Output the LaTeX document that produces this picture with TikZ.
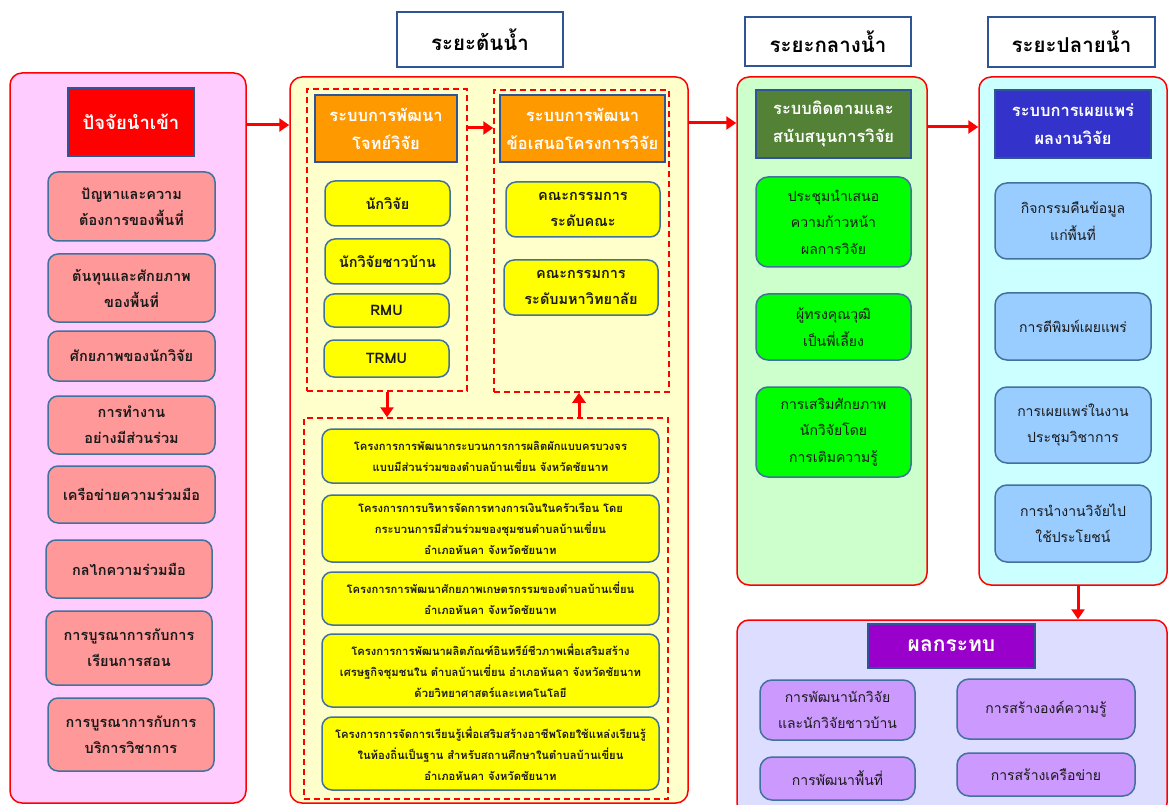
\documentclass[tikz,border=0pt]{standalone}
\usepackage{fontspec}
\setmainfont{Loma}[Script=Thai]
\usetikzlibrary{arrows.meta}
\definecolor{pinkbg}{HTML}{FFCCFF}
\definecolor{pinkitem}{HTML}{FF9999}
\definecolor{yelbg}{HTML}{FFFFCC}
\definecolor{yelitem}{HTML}{FFFF00}
\definecolor{orangehdr}{HTML}{FF9900}
\definecolor{greenbg}{HTML}{CCFFCC}
\definecolor{greenhdr}{HTML}{538135}
\definecolor{greenitem}{HTML}{00FF00}
\definecolor{cyanbg}{HTML}{CCFFFF}
\definecolor{bluehdr}{HTML}{3333CC}
\definecolor{blueitem}{HTML}{99CCFF}
\definecolor{lavbg}{HTML}{DDDDFF}
\definecolor{purplehdr}{HTML}{9900CC}
\definecolor{purpleitem}{HTML}{CC99FF}
\definecolor{edgeblue}{HTML}{2F5597}
\definecolor{itemedge}{HTML}{41719C}
\definecolor{darktext}{HTML}{1A1A1A}
\newcommand{\mybox}[7]{\node[#2, minimum width={(#5)-(#3)}, minimum height={(#6)-(#4)}, inner sep=0pt] (#1) at ({((#3)+(#5))/2},{((#4)+(#6))/2}) {#7};}
\tikzset{
  bigbox/.style={draw=red, line width=1.5pt, rounded corners=12pt},
  hdrbox/.style={draw=edgeblue, line width=1.5pt, text=white, align=center, font=\bfseries\fontsize{16.5}{28}\selectfont},
  itembox/.style={draw=itemedge, line width=1.5pt, rounded corners=10pt, align=center, font=\bfseries\fontsize{14.5}{26}\selectfont, text=darktext},
  softitem/.style={draw=itemedge, line width=1.5pt, rounded corners=12pt, align=center, font=\fontsize{14}{26.5}\selectfont, text=darktext},
  projbox/.style={draw=itemedge, line width=1.5pt, rounded corners=10pt, align=center, font=\bfseries\fontsize{11.2}{21}\selectfont, fill=yelitem, text=darktext},
  titlebox/.style={draw=edgeblue, fill=white, line width=1.5pt, font=\bfseries\fontsize{20.5}{24}\selectfont},
  dashbox/.style={draw=red, line width=1.5pt, dash pattern=on 6pt off 4pt},
  arr/.style={draw=red, line width=3pt, -{Triangle[length=10pt,width=13pt]}}
}
\begin{document}
\begin{tikzpicture}[x=1pt,y=-1pt]
\clip (0,0) rectangle (1168,805);
\fill[white] (0,0) rectangle (1168,805);
% big boxes
\mybox{left}{bigbox, fill=pinkbg}{10}{73}{246}{803}{}
\mybox{mid}{bigbox, fill=yelbg}{290}{77}{688}{803}{}
\mybox{midw}{bigbox, fill=greenbg}{737}{77}{927}{585}{}
\mybox{down}{bigbox, fill=cyanbg}{979}{77}{1167}{585}{}
\mybox{impact}{bigbox, fill=lavbg}{737}{620}{1167}{815}{}
% titles
\mybox{t1}{titlebox}{397}{12}{563}{67}{ระยะต้นน้ำ}
\mybox{t2}{titlebox}{745}{17}{911}{66}{ระยะกลางน้ำ}
\mybox{t3}{titlebox}{988}{17}{1155}{67}{ระยะปลายน้ำ}
% left column
\mybox{lh}{hdrbox, fill=red, font=\bfseries\fontsize{18.5}{24}\selectfont}{68}{88}{194}{156}{ปัจจัยนำเข้า}
\mybox{l1}{itembox, fill=pinkitem}{48}{172}{215}{241}{ปัญหาและความ\\ต้องการของพื้นที่}
\mybox{l2}{itembox, fill=pinkitem}{48}{254}{215}{322}{ต้นทุนและศักยภาพ\\ของพื้นที่}
\mybox{l3}{itembox, fill=pinkitem}{48}{331}{215}{381}{ศักยภาพของนักวิจัย}
\mybox{l4}{itembox, fill=pinkitem}{48}{396}{215}{454}{การทำงาน\\อย่างมีส่วนร่วม}
\mybox{l5}{itembox, fill=pinkitem}{48}{466}{215}{523}{เครือข่ายความร่วมมือ}
\mybox{l6}{itembox, fill=pinkitem}{46}{540}{212}{598}{กลไกความร่วมมือ}
\mybox{l7}{itembox, fill=pinkitem}{46}{611}{212}{685}{การบูรณาการกับการ\\เรียนการสอน}
\mybox{l8}{itembox, fill=pinkitem}{48}{698}{214}{771}{การบูรณาการกับการ\\บริการวิชาการ}
% middle (upstream)
\mybox{d1}{dashbox}{307}{89}{467}{391}{}
\mybox{d2}{dashbox}{494}{90}{669}{392}{}
\mybox{d3}{dashbox}{304}{418}{668}{799}{}
\mybox{oh1}{hdrbox, fill=orangehdr}{315}{95}{457}{162}{ระบบการพัฒนา\\โจทย์วิจัย}
\mybox{oh2}{hdrbox, fill=orangehdr}{500}{95}{665}{162}{ระบบการพัฒนา\\ข้อเสนอโครงการวิจัย}
\mybox{y1}{itembox, fill=yelitem}{325}{181}{450}{226}{นักวิจัย}
\mybox{y2}{itembox, fill=yelitem}{325}{239}{450}{284}{นักวิจัยชาวบ้าน}
\mybox{y3}{itembox, fill=yelitem}{324}{294}{449}{327}{RMU}
\mybox{y4}{itembox, fill=yelitem}{324}{340}{449}{377}{TRMU}
\mybox{y5}{itembox, fill=yelitem}{506}{182}{660}{237}{คณะกรรมการ\\ระดับคณะ}
\mybox{y6}{itembox, fill=yelitem}{504}{260}{658}{315}{คณะกรรมการ\\ระดับมหาวิทยาลัย}
\mybox{p1}{projbox}{322}{429}{659}{483}{โครงการการพัฒนากระบวนการการผลิตผักแบบครบวงจร\\แบบมีส่วนร่วมของตำบลบ้านเขี่ยน จังหวัดชัยนาท}
\mybox{p2}{projbox}{322}{495}{659}{562}{โครงการการบริหารจัดการทางการเงินในครัวเรือน โดย\\กระบวนการมีส่วนร่วมของชุมชนตำบลบ้านเขี่ยน\\อำเภอหันคา จังหวัดชัยนาท}
\mybox{p3}{projbox}{322}{572}{659}{625}{โครงการการพัฒนาศักยภาพเกษตรกรรมของตำบลบ้านเขี่ยน\\อำเภอหันคา จังหวัดชัยนาท}
\mybox{p4}{projbox}{322}{634}{659}{707}{โครงการการพัฒนาผลิตภัณฑ์อินทรีย์ชีวภาพเพื่อเสริมสร้าง\\เศรษฐกิจชุมชนใน ตำบลบ้านเขี่ยน อำเภอหันคา จังหวัดชัยนาท\\ด้วยวิทยาศาสตร์และเทคโนโลยี}
\mybox{p5}{projbox}{322}{717}{659}{790}{โครงการการจัดการเรียนรู้เพื่อเสริมสร้างอาชีพโดยใช้แหล่งเรียนรู้\\ในท้องถิ่นเป็นฐาน สำหรับสถานศึกษาในตำบลบ้านเขี่ยน\\อำเภอหันคา จังหวัดชัยนาท}
% midstream
\mybox{gh}{hdrbox, fill=greenhdr}{756}{90}{911}{158}{ระบบติดตามและ\\สนับสนุนการวิจัย}
\mybox{g1}{softitem, fill=greenitem}{756}{177}{911}{267}{ประชุมนำเสนอ\\ความก้าวหน้า\\ผลการวิจัย}
\mybox{g2}{softitem, fill=greenitem}{756}{294}{911}{360}{ผู้ทรงคุณวุฒิ\\เป็นพี่เลี้ยง}
\mybox{g3}{softitem, fill=greenitem}{756}{387}{911}{477}{การเสริมศักยภาพ\\นักวิจัยโดย\\การเติมความรู้}
% downstream
\mybox{bh}{hdrbox, fill=bluehdr}{995}{90}{1151}{158}{ระบบการเผยแพร่\\ผลงานวิจัย}
\mybox{b1}{softitem, fill=blueitem}{995}{183}{1151}{259}{กิจกรรมคืนข้อมูล\\แก่พื้นที่}
\mybox{b2}{softitem, fill=blueitem}{995}{293}{1151}{360}{การตีพิมพ์เผยแพร่}
\mybox{b3}{softitem, fill=blueitem}{995}{387}{1151}{463}{การเผยแพร่ในงาน\\ประชุมวิชาการ}
\mybox{b4}{softitem, fill=blueitem}{995}{485}{1151}{562}{การนำงานวิจัยไป\\ใช้ประโยชน์}
% impact
\mybox{ih}{hdrbox, fill=purplehdr, font=\bfseries\fontsize{21}{24}\selectfont}{868}{624}{1035}{668}{ผลกระทบ}
\mybox{i1}{softitem, fill=purpleitem}{760}{680}{915}{740}{การพัฒนานักวิจัย\\และนักวิจัยชาวบ้าน}
\mybox{i2}{softitem, fill=purpleitem}{957}{679}{1135}{739}{การสร้างองค์ความรู้}
\mybox{i3}{softitem, fill=purpleitem}{760}{757}{915}{800}{การพัฒนาพื้นที่}
\mybox{i4}{softitem, fill=purpleitem}{957}{753}{1135}{796}{การสร้างเครือข่าย}
% arrows
\draw[arr] (left.east |- 0,125) -- (mid.west |- 0,125);
\draw[arr] (d1.east |- 0,128) -- (d2.west |- 0,128);
\draw[arr] (d1.south) -- (d3.north -| d1.south);
\draw[arr] (d3.north -| 579,0) -- (d2.south -| 579,0);
\draw[arr] (mid.east |- 0,123) -- (midw.west |- 0,123);
\draw[arr] (midw.east |- 0,127) -- (down.west |- 0,127);
\draw[arr] (down.south -| 1078,0) -- (impact.north -| 1078,0);
\end{tikzpicture}
\end{document}
